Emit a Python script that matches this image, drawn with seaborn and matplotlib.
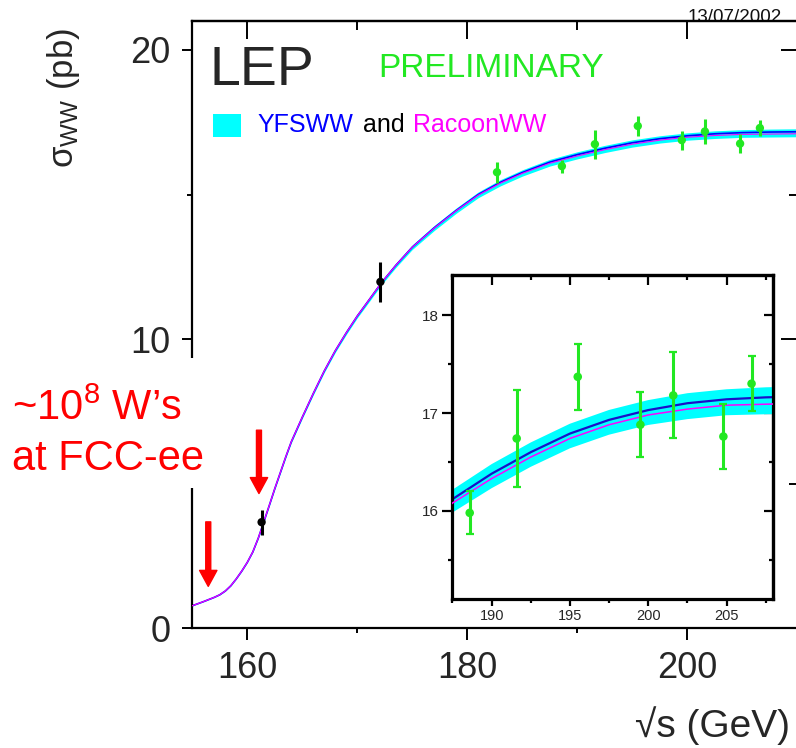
import numpy as np
import pandas as pd
import matplotlib
matplotlib.use("Agg")
import matplotlib.pyplot as plt
import seaborn as sns
from matplotlib.patches import Rectangle

# ---------------- data ----------------
energy_curve = [155, 156, 157, 157.5, 158, 158.5, 159, 159.5, 160, 160.5, 161, 161.5, 162, 162.5,
                163, 163.5, 164, 165, 166, 167, 168, 169, 170, 171, 172.2, 173.5, 175, 177, 179,
                181, 183, 185, 187.5, 190, 192.5, 195, 197.5, 200, 202.5, 205, 207.5, 210]
sigma_yfsww = [0.78, 0.92, 1.07, 1.16, 1.29, 1.47, 1.71, 1.98, 2.28, 2.64, 3.12, 3.68, 4.25, 4.83,
               5.38, 5.93, 6.45, 7.30, 8.12, 8.90, 9.60, 10.22, 10.80, 11.32, 11.95, 12.55, 13.18,
               13.85, 14.45, 15.00, 15.42, 15.76, 16.12, 16.38, 16.60, 16.79, 16.93, 17.03, 17.10,
               17.14, 17.16, 17.17]
sigma_racoonww = [0.78, 0.92, 1.07, 1.16, 1.29, 1.47, 1.71, 1.98, 2.28, 2.64, 3.12, 3.68, 4.25, 4.83,
                  5.38, 5.93, 6.45, 7.30, 8.12, 8.90, 9.60, 10.22, 10.80, 11.32, 11.95, 12.55, 13.18,
                  13.84, 14.44, 14.98, 15.39, 15.73, 16.08, 16.33, 16.55, 16.74, 16.88, 16.98, 17.04,
                  17.08, 17.09, 17.10]
band_rel_unc = 0.006

energies_early = [161.3, 172.1]
sigma_early = [3.67, 11.98]
err_early = [0.43, 0.69]

energies_lep2 = [182.7, 188.6, 191.6, 195.5, 199.5, 201.6, 204.8, 206.6]
sigma_lep2 = [15.77, 15.98, 16.74, 17.37, 16.88, 17.18, 16.76, 17.30]
err_lep2 = [0.37, 0.22, 0.50, 0.34, 0.33, 0.44, 0.33, 0.28]

main_xticks = [160, 180, 200]
main_yticks = [0, 10, 20]
inset_xticks = [190, 195, 200, 205]
inset_yticks = [16, 17, 18]
arrow_energies = [156.45, 161.06]

# ---------------- style ----------------
sns.set_style("white")
plt.rcParams["font.family"] = ["Liberation Sans", "DejaVu Sans"]
plt.rcParams["mathtext.fontset"] = "custom"
plt.rcParams["mathtext.rm"] = "Liberation Sans"
plt.rcParams["mathtext.it"] = "Liberation Sans:italic"
plt.rcParams["mathtext.sf"] = "Liberation Sans"

GREEN = "#22e822"
BLUE = "#0000ff"
NAVY = "#1a10c8"
MAGENTA = "#ff00ff"
CYAN = "#00ffff"

W, H = 796, 748
fig = plt.figure(figsize=(W / 100, H / 100), dpi=100)


def fx(px):
    return px / W


def fy(py):
    return 1 - py / H


df = pd.DataFrame({"E": energy_curve, "yfs": sigma_yfsww, "racoon": sigma_racoonww})
center = (df["yfs"] + df["racoon"]) / 2
df["lo"] = np.minimum(df["yfs"], df["racoon"]) - center * band_rel_unc
df["hi"] = np.maximum(df["yfs"], df["racoon"]) + center * band_rel_unc


def draw_curves(a, lw_b, lw_m, blue):
    a.fill_between(df["E"], df["lo"], df["hi"], color=CYAN, lw=0, zorder=1)
    sns.lineplot(data=df, x="E", y="yfs", ax=a, color=blue, linewidth=lw_b,
                 sort=False, estimator=None, zorder=2)
    sns.lineplot(data=df, x="E", y="racoon", ax=a, color=MAGENTA, linewidth=lw_m,
                 sort=False, estimator=None, zorder=3)


# ---------------- main axes ----------------
ax = fig.add_axes([fx(192.3), fy(628.3), fx(605), (628.3 - 21) / H])
draw_curves(ax, 1.2, 0.8, BLUE)

ax.errorbar(energies_early, sigma_early, yerr=err_early, fmt="none", ecolor="black",
            elinewidth=2.2, capsize=0, zorder=4)
sns.scatterplot(x=energies_early, y=sigma_early, ax=ax, color="black", s=36,
                edgecolor="none", zorder=5)
ax.errorbar(energies_lep2, sigma_lep2, yerr=err_lep2, fmt="none", ecolor=GREEN,
            elinewidth=2.2, capsize=0, zorder=4)
sns.scatterplot(x=energies_lep2, y=sigma_lep2, ax=ax, color=GREEN, s=36,
                edgecolor="none", zorder=5)

ax.set_xlim(155, 210)
ax.set_ylim(0, 21)
ax.set_xlabel("")
ax.set_ylabel("")
ax.set_xticks(main_xticks)
ax.set_xticks([170, 190, 210], minor=True)
ax.set_yticks(main_yticks)
ax.set_yticks([5, 15], minor=True)
ax.set_xticklabels([str(t) for t in main_xticks])
ax.set_yticklabels([str(t) for t in main_yticks])
for s in ax.spines.values():
    s.set_color("black")
    s.set_linewidth(1.6)
ax.tick_params(axis="x", which="major", direction="out", length=8.6, width=1.4,
               pad=8, labelsize=26, color="black", bottom=True, top=False)
ax.tick_params(axis="x", which="minor", direction="out", length=3.6, width=1.4,
               color="black", bottom=True, top=False)
ax.tick_params(axis="y", which="major", direction="out", length=7.2, width=1.4,
               pad=8.5, labelsize=26, color="black", left=True, right=False)
ax.tick_params(axis="y", which="minor", direction="out", length=3.6, width=1.4,
               color="black", left=True, right=False)

secx = ax.secondary_xaxis("top")
secx.set_xticks(main_xticks)
secx.set_xticks([170, 190], minor=True)
secx.tick_params(axis="x", which="major", direction="in", length=13, width=1.4,
                 labeltop=False, color="black")
secx.tick_params(axis="x", which="minor", direction="in", length=6.5, width=1.4,
                 color="black")
secx.spines["top"].set_linewidth(1.6)
secx.spines["top"].set_color("black")

secy = ax.secondary_yaxis("right")
secy.set_yticks([10, 20])
secy.set_yticks([5, 15], minor=True)
secy.tick_params(axis="y", which="major", direction="in", length=11.5, width=1.4,
                 labelright=False, color="black")
secy.tick_params(axis="y", which="minor", direction="in", length=5.8, width=1.4,
                 color="black")

for xa in arrow_energies[:1]:
    ax.annotate("", xy=(xa, 1.45), xytext=(xa, 3.68),
                arrowprops=dict(facecolor="red", edgecolor="red", width=3.6,
                                headwidth=12.5, headlength=11.5, shrink=0))
for xa in arrow_energies[1:]:
    ax.annotate("", xy=(xa, 4.66), xytext=(xa, 6.85),
                arrowprops=dict(facecolor="red", edgecolor="red", width=3.6,
                                headwidth=12.5, headlength=11.5, shrink=0))

# ---------------- inset ----------------
ins = fig.add_axes([fx(451.7), fy(599), fx(321), 324 / H])
draw_curves(ins, 1.6, 1.1, NAVY)
ins.errorbar(energies_lep2, sigma_lep2, yerr=err_lep2, fmt="none", ecolor=GREEN,
             elinewidth=2.2, capsize=3.2, capthick=1.6, zorder=4)
sns.scatterplot(x=energies_lep2, y=sigma_lep2, ax=ins, color=GREEN, s=38,
                edgecolor="none", zorder=5)
ins.set_xlim(187.45, 207.95)
ins.set_ylim(15.1, 18.41)
ins.set_xlabel("")
ins.set_ylabel("")
ins.set_xticks(inset_xticks)
ins.set_xticks([187.5, 192.5, 197.5, 202.5, 207.5], minor=True)
ins.set_yticks(inset_yticks)
ins.set_yticks([15.5, 16.5, 17.5], minor=True)
ins.set_xticklabels([str(t) for t in inset_xticks])
ins.set_yticklabels([str(t) for t in inset_yticks])
for s in ins.spines.values():
    s.set_color("black")
    s.set_linewidth(2.3)
ins.tick_params(axis="x", which="major", direction="out", length=5, width=1.6,
                pad=2, labelsize=10.5, color="black", bottom=True, top=False)
ins.tick_params(axis="x", which="minor", direction="out", length=3, width=1.6,
                color="black", bottom=True, top=False)
ins.tick_params(axis="y", which="major", direction="out", length=7, width=1.6,
                pad=2, labelsize=11, color="black", left=True, right=False)
ins.tick_params(axis="y", which="minor", direction="out", length=3, width=1.6,
                color="black", left=True, right=False)

isx = ins.secondary_xaxis("top")
isx.set_xticks(inset_xticks)
isx.set_xticks([187.5, 192.5, 197.5, 202.5, 207.5], minor=True)
isx.tick_params(axis="x", which="major", direction="in", length=7, width=1.6,
                labeltop=False, color="black")
isx.tick_params(axis="x", which="minor", direction="in", length=3.6, width=1.6,
                color="black")
isx.spines["top"].set_linewidth(2.3)
isy = ins.secondary_yaxis("right")
isy.set_yticks(inset_yticks)
isy.set_yticks([15.5, 16.5, 17.5], minor=True)
isy.tick_params(axis="y", which="major", direction="in", length=6.5, width=1.6,
                labelright=False, color="black")
isy.tick_params(axis="y", which="minor", direction="in", length=3, width=1.6,
                color="black")
isy.spines["right"].set_linewidth(2.3)

# ---------------- texts ----------------
fig.text(fx(63), fy(28), r"$\mathrm{\sigma}_{\mathrm{WW}}$ (pb)", rotation=90,
         ha="center", va="top", fontsize=25)
fig.text(fx(790), fy(737), "\u221as (GeV)", ha="right", va="baseline", fontsize=28)
fig.text(fx(688), fy(22), "13/07/2002", ha="left", va="baseline", fontsize=13.5,
         color="#111111", zorder=-1)
fig.text(fx(210), fy(85), "LEP", ha="left", va="baseline", fontsize=40)
fig.text(fx(378), fy(77), "PRELIMINARY", ha="left", va="baseline", fontsize=24, color=GREEN)

fig.add_artist(Rectangle((fx(213), fy(137)), fx(28), 23 / H, transform=fig.transFigure,
                         facecolor=CYAN, edgecolor="none", zorder=6))
fig.text(fx(257), fy(132), "YFSWW", ha="left", va="baseline", fontsize=18, color=BLUE)
fig.text(fx(363), fy(132), "and", ha="left", va="baseline", fontsize=18, color="black")
fig.text(fx(413), fy(132), "RacoonWW", ha="left", va="baseline", fontsize=18, color=MAGENTA)

# white patch hiding part of the left spine behind the annotation
fig.add_artist(Rectangle((0, fy(488)), fx(207), (488 - 358) / H, transform=fig.transFigure,
                         facecolor="white", edgecolor="none", zorder=5))
fig.text(fx(12), fy(420), "~10$^{8}$ W\u2019s", ha="left", va="baseline", fontsize=30,
         color="red", zorder=6)
fig.text(fx(12), fy(470), "at FCC-ee", ha="left", va="baseline", fontsize=30,
         color="red", zorder=6)

fig.savefig("out.png", dpi=100)
